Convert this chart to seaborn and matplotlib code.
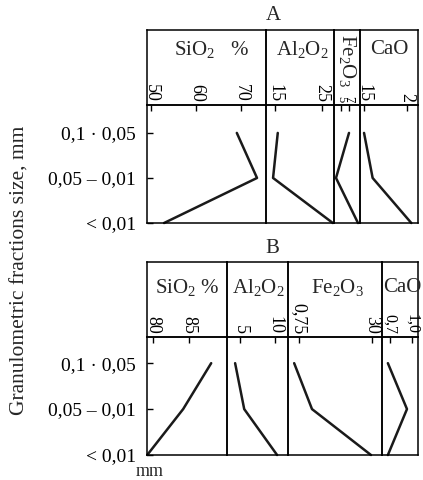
import numpy as np
import pandas as pd
import matplotlib
matplotlib.use("Agg")
import matplotlib.pyplot as plt
import seaborn as sns

sns.set_theme(style="white")
plt.rcParams["font.family"] = ["Liberation Serif", "DejaVu Serif"]
plt.rcParams["mathtext.default"] = "regular"

# ---- data ----
categories = ["< 0,01", "0,05 – 0,01", "0,1 · 0,05"]

A_sio2 = [52.8, 73.5, 69.0]
A_al2o2 = [27.3, 14.6, 15.6]
A_fe2o3 = [9.25, 3.75, 7.0]
A_cao = [2.05, 1.6, 1.5]

B_sio2 = [79.2, 84.2, 88.1]
B_al2o2 = [10.3, 5.6, 4.3]
B_fe2o3 = [2.97, 1.15, 0.6]
B_cao = [0.67, 0.93, 0.67]

A_names = ["SiO$_2$   %", "Al$_2$O$_2$", "Fe$_2$O$_3$", "CaO"]
B_names = ["SiO$_2$ %", "Al$_2$O$_2$", "Fe$_2$O$_3$", "CaO"]

A_ticks = [[50, 60, 70], [15, 25], [5, 7], [1.5, 2]]
A_ticklabels = [["50", "60", "70"], ["15", "25"], ["5", "7"], ["15", "2"]]
B_ticks = [[80, 85], [5, 10], [0.75, 3.0], [0.7, 1.0]]
B_ticklabels = [["80", "85"], ["5", "10"], ["0,75", "30"], ["0,7", "1,0"]]

# ---- layout (pixels) ----
W, H = 423, 480
fig = plt.figure(figsize=(W / 100, H / 100), dpi=100)


def rect(x0, x1, ytop, ybot):
    return [x0 / W, 1 - ybot / H, (x1 - x0) / W, (ybot - ytop) / H]


panels = [
    dict(title="A", series=[A_sio2, A_al2o2, A_fe2o3, A_cao], names=A_names,
         ticks=A_ticks, ticklabels=A_ticklabels,
         xs=[147, 266, 334, 360, 418], top=30, hdr=105, bot=223, ytop=2.62,
         xlims=[(49, 75.5), (13.1, 27.55), (3.25, 9.75), (1.453, 2.128)],
         name_pos=[(211, 50, 0, "center"), (302, 50, 0, "center"),
                   (347, 60, -90, "center"), (389, 50, 0, "center")],
         tick_fs=[13, 13, 9, 13],
         title_pos=(273, 15)),
    dict(title="B", series=[B_sio2, B_al2o2, B_fe2o3, B_cao], names=B_names,
         ticks=B_ticks, ticklabels=B_ticklabels,
         xs=[147, 227, 288, 382, 418], top=262, hdr=337, bot=455, ytop=2.57,
         xlims=[(79.17, 90.3), (3.14, 11.86), (0.41, 3.31), (0.59, 1.08)],
         name_pos=[(187, 287, 0, "center"), (258, 287, 0, "center"),
                   (337, 287, 0, "center"), (383, 287, 0, "left")],
         tick_fs=[13, 13, 13, 11.5],
         title_pos=(272, 248)),
]

ypos = np.arange(len(categories))

for p in panels:
    xs = p["xs"]
    # header boxes
    for i in range(4):
        hax = fig.add_axes(rect(xs[i], xs[i + 1], p["top"], p["hdr"]))
        hax.set_facecolor("none")
        hax.set_xticks([])
        hax.set_yticks([])
        for s in hax.spines.values():
            s.set_linewidth(1.1)
            s.set_color("black")
    for i in range(4):
        ax = fig.add_axes(rect(xs[i], xs[i + 1], p["hdr"], p["bot"]))
        ax.set_facecolor("none")
        df = pd.DataFrame({"val": p["series"][i], "y": ypos})
        sns.lineplot(data=df, x="val", y="y", sort=False, estimator=None,
                     color="#1a1a1a", linewidth=1.8, ax=ax, clip_on=False)
        ax.set_xlim(*p["xlims"][i])
        ax.set_ylim(0, p["ytop"])
        ax.set_xlabel("")
        ax.set_ylabel("")
        ax.set_xticks(p["ticks"][i])
        ax.set_xticklabels(p["ticklabels"][i])
        ax.tick_params(axis="x", which="both", top=True, bottom=False,
                       labeltop=True, labelbottom=False, direction="in",
                       length=4, width=1, pad=2, labelsize=p["tick_fs"][i],
                       labelrotation=-90, colors="black")
        for lab in ax.get_xticklabels():
            lab.set_va("bottom")
        if i == 0:
            ax.set_yticks(ypos)
            ax.set_yticklabels(categories)
            ax.tick_params(axis="y", left=True, direction="in", length=4,
                           width=1, labelsize=14, pad=8, colors="black")
        else:
            ax.set_yticks([])
        for s in ax.spines.values():
            s.set_linewidth(1.1)
            s.set_color("black")
    for (x, y, rot, ha), name in zip(p["name_pos"], p["names"]):
        fig.text(x / W, 1 - y / H, name, ha=ha, va="center",
                 rotation=rot, fontsize=15)
    fig.text(p["title_pos"][0] / W, 1 - p["title_pos"][1] / H, p["title"],
             ha="center", va="center", fontsize=15)

fig.text(20 / W, 1 - 270 / H, "Granulometric fractions size, mm", rotation=90,
         ha="center", va="center", fontsize=15.5)
fig.text(150 / W, 1 - 471 / H, "mm", ha="center", va="center", fontsize=13)

fig.savefig("out.png", dpi=100)
